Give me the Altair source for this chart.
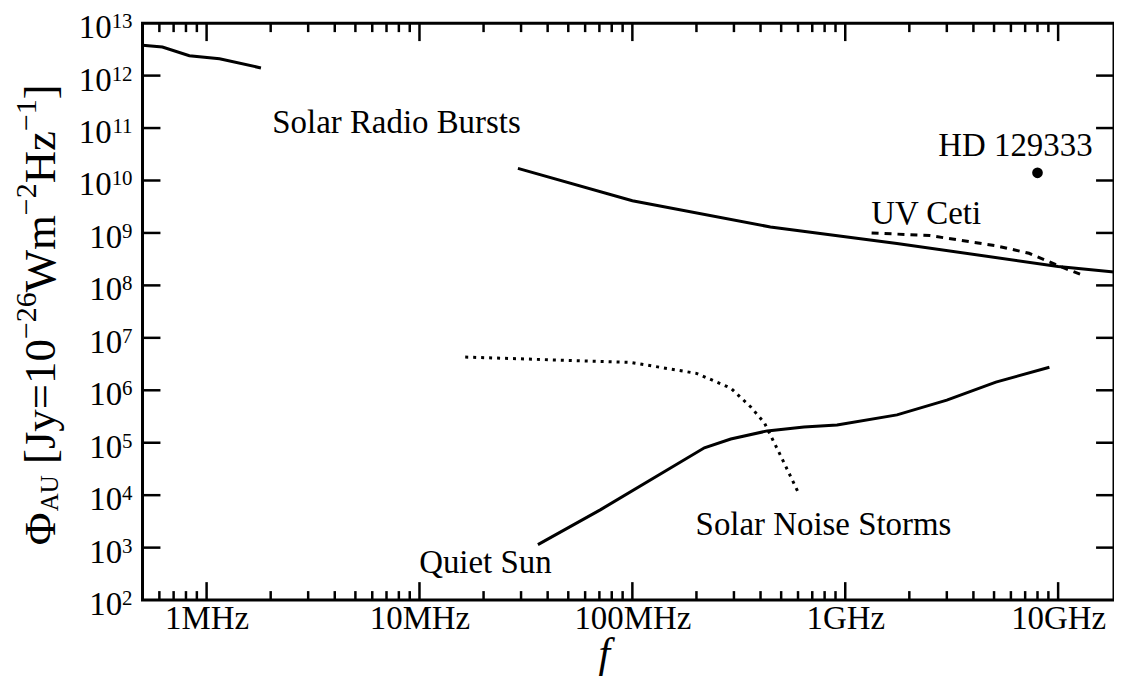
import altair as alt
import pandas as pd

FONT = "Liberation Serif"

# ---- data ----
burst_low_f = [5.0e5, 6.2e5, 8.3e5, 1.15e6, 1.8e6]
burst_low_phi = [3.8e12, 3.5e12, 2.4e12, 2.1e12, 1.4e12]

burst_high_f = [2.9e7, 1.0e8, 4.45e8, 1.75e9, 1.0e10, 1.83e10]
burst_high_phi = [1.7e10, 4.1e9, 1.3e9, 6.3e8, 2.3e8, 1.8e8]

uvceti_f = [1.33e9, 2.5e9, 5.1e9, 7.3e9, 1.05e10, 1.31e10]
uvceti_phi = [1.0e9, 8.9e8, 5.7e8, 4.1e8, 2.2e8, 1.55e8]

noise_f = [1.64e7, 9.85e7, 2.0e8, 2.9e8, 3.6e8, 4.17e8, 5.0e8, 6.1e8]
noise_phi = [4.3e6, 3.4e6, 2.1e6, 1.1e6, 4.8e5, 2.4e5, 5.4e4, 1.0e4]

quiet_f = [3.6e7, 7.1e7, 2.18e8, 2.9e8, 4.3e8, 6.4e8, 9.15e8, 1.75e9, 3.0e9, 5.1e9, 9.1e9]
quiet_phi = [1.14e3, 5.3e3, 8.0e4, 1.18e5, 1.68e5, 2.0e5, 2.18e5, 3.4e5, 6.5e5, 1.43e6, 2.75e6]

hd_f = [8.0e9]
hd_phi = [1.4e10]

label_text = ["Solar Radio Bursts", "HD 129333", "UV Ceti", "Solar Noise Storms", "Quiet Sun"]
label_f = [7.8e6, 6.3e9, 2.4e9, 7.9e8, 2.04e7]
label_phi = [1.26e11, 4.6e10, 2.3e9, 2.7e3, 5.19e2]

x_tick_vals = [1e6, 1e7, 1e8, 1e9, 1e10]
x_tick_labels = ["1MHz", "10MHz", "100MHz", "1GHz", "10GHz"]
y_tick_vals = [1e2, 1e3, 1e4, 1e5, 1e6, 1e7, 1e8, 1e9, 1e10, 1e11, 1e12, 1e13]
y_tick_base = "10"
y_tick_exps = ["2", "3", "4", "5", "6", "7", "8", "9", "10", "11", "12", "13"]

# ---- layout ----
W, H = 975, 579
XMIN, XMAX = 5.0e5, 1.83e10
YMIN, YMAX = 1e2, 1e13

xs = alt.Scale(type="log", domain=[XMIN, XMAX], nice=False)
ys = alt.Scale(type="log", domain=[YMIN, YMAX], nice=False)


def label_expr(vals, labels):
    expr = "''"
    for v, lab in reversed(list(zip(vals, labels))):
        expr = f"(abs(log(datum.value) - log({v})) < 0.1 ? '{lab}' : {expr})"
    return expr


X_AXIS = alt.Axis(
    values=x_tick_vals, labelExpr=label_expr(x_tick_vals, x_tick_labels),
    ticks=False, tickSize=0, domain=False, grid=False,
    labelFont=FONT, labelFontSize=33, labelColor="black",
    labelBaseline="alphabetic", labelPadding=29, labelAlign="center",
    title="f", titleFont=FONT, titleFontSize=42, titleFontStyle="italic",
    titleFontWeight="normal", titleColor="black", titleX=463, titleY=67,
    titleBaseline="alphabetic", titleAlign="center",
)
Y_AXIS = alt.Axis(
    values=y_tick_vals, labels=False,
    ticks=False, tickSize=0, domain=False, grid=False,
    title="",
)


def xy_df(f, p):
    return pd.DataFrame({"f": f, "phi": p})


def line_layer(f, p, dash=None):
    kw = dict(color="black", strokeWidth=3, clip=True)
    if dash:
        kw["strokeDash"] = dash
    return alt.Chart(xy_df(f, p)).mark_line(**kw).encode(
        x=alt.X("f:Q", scale=xs, axis=X_AXIS),
        y=alt.Y("phi:Q", scale=ys, axis=Y_AXIS),
    )


layers = [
    line_layer(burst_low_f, burst_low_phi),
    line_layer(burst_high_f, burst_high_phi),
    line_layer(quiet_f, quiet_phi),
    line_layer(uvceti_f, uvceti_phi, [7, 6]),
    line_layer(noise_f, noise_phi, [3, 5]),
    alt.Chart(xy_df(hd_f, hd_phi)).mark_point(filled=True, color="black", size=115, opacity=1).encode(
        x=alt.X("f:Q", scale=xs, axis=X_AXIS),
        y=alt.Y("phi:Q", scale=ys, axis=Y_AXIS),
    ),
    alt.Chart(pd.DataFrame({"f": label_f, "phi": label_phi, "t": label_text})).mark_text(
        font=FONT, fontSize=33, color="black", align="center", baseline="middle"
    ).encode(
        x=alt.X("f:Q", scale=xs, axis=X_AXIS),
        y=alt.Y("phi:Q", scale=ys, axis=Y_AXIS),
        text="t:N",
    ),
]

# ---- y tick labels: "10" with a raised exponent ----
ylab = pd.DataFrame({"v": y_tick_vals, "e": y_tick_exps, "b": [y_tick_base] * len(y_tick_vals)})
EXP_SIZE = 21
LAB_RIGHT = -10
layers.append(
    alt.Chart(ylab).mark_text(font=FONT, fontSize=EXP_SIZE, color="black",
                              align="right", baseline="alphabetic", dy=5).encode(
        x=alt.value(LAB_RIGHT), y=alt.Y("v:Q", scale=ys, axis=Y_AXIS), text="e:N")
)
for nd in (1, 2):
    layers.append(
        alt.Chart(ylab).transform_filter(f"length(datum.e) == {nd}").mark_text(
            font=FONT, fontSize=33, color="black", align="right", baseline="alphabetic", dy=15
        ).encode(
            x=alt.value(LAB_RIGHT - nd * EXP_SIZE * 0.5),
            y=alt.Y("v:Q", scale=ys, axis=Y_AXIS), text="b:N")
    )

# ---- inward ticks on all four sides ----
MAJ, MIN_ = 18, 9
x_major = pd.DataFrame({"v": x_tick_vals})
x_minor = pd.DataFrame({"v": [k * 10 ** n for n in range(5, 11) for k in range(2, 10)
                              if XMIN < k * 10 ** n < XMAX]})
y_major = pd.DataFrame({"v": y_tick_vals[1:-1]})

for df, L in [(x_major, MAJ), (x_minor, MIN_)]:
    for y0, y1 in [(H, H - L), (0, L)]:
        layers.append(
            alt.Chart(df).mark_rule(color="black", strokeWidth=2.5).encode(
                x=alt.X("v:Q", scale=xs, axis=X_AXIS),
                y=alt.value(y0), y2=alt.value(y1),
            )
        )
for x0, x1 in [(0, MAJ), (W, W - MAJ)]:
    layers.append(
        alt.Chart(y_major).mark_rule(color="black", strokeWidth=2.5).encode(
            y=alt.Y("v:Q", scale=ys, axis=Y_AXIS),
            x=alt.value(x0), x2=alt.value(x1),
        )
    )

# ---- composed y-axis title: Φ_AU [Jy=10^-26 Wm^-2 Hz^-1] ----
MAIN, SUP, SUB = 45, 30, 25
BASE_X = 55 - 143          # baseline (plot coords)
pieces = [
    ("Φ", MAIN, BASE_X, 0.76),
    ("AU", SUB, BASE_X + 3, 1.444),
    (" ", MAIN, BASE_X, 0.25),
    ("[Jy=10", MAIN, BASE_X, 2.786),
    ("−26", SUP, BASE_X - 19, 1.564),
    ("Wm", MAIN, BASE_X, 1.722),
    ("−2", SUP, BASE_X - 19, 1.064),
    ("Hz", MAIN, BASE_X, 1.166),
    ("−1", SUP, BASE_X - 19, 1.064),
    ("]", MAIN, BASE_X, 0.333),
]
cur = 546 - 22
for txt, size, bx, wem in pieces:
    if txt.strip():
        layers.append(
            alt.Chart(pd.DataFrame({"t": [txt]})).mark_text(
                font=FONT, fontSize=size, color="black", angle=270,
                align="left", baseline="alphabetic"
            ).encode(x=alt.value(bx), y=alt.value(cur), text="t:N")
        )
    cur -= wem * size

chart = alt.layer(*layers).properties(
    width=W, height=H,
    background="white",
    autosize=alt.AutoSizeParams(type="none"),
    padding={"left": 135, "top": 14, "right": 0, "bottom": 76},
).configure_view(
    stroke="black", strokeWidth=3
)

chart.save("out.html", embed_options={"renderer": "svg", "actions": False})
